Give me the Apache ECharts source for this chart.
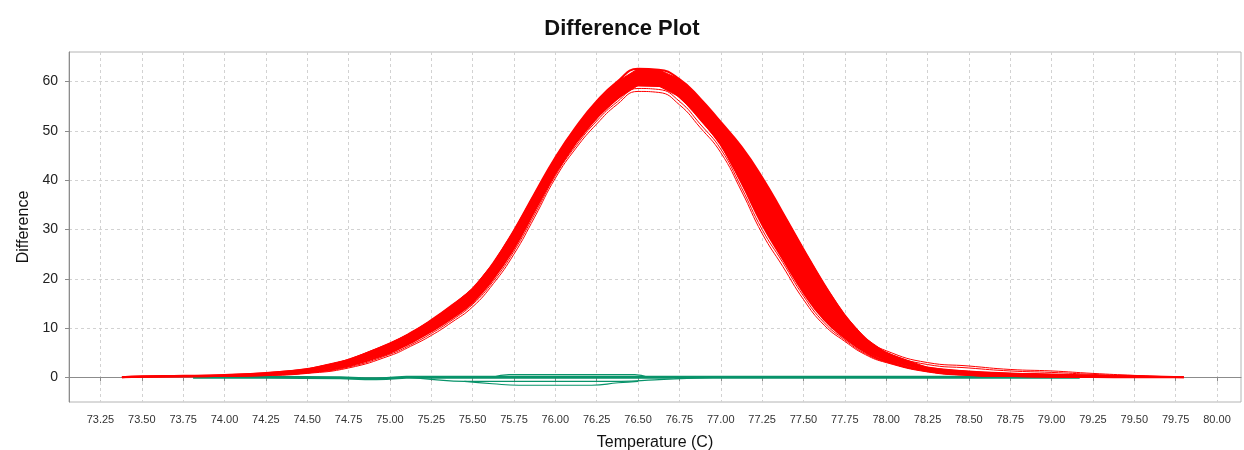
<!DOCTYPE html>
<html>
<head>
<meta charset="utf-8">
<title>Difference Plot</title>
<script src="https://cdn.jsdelivr.net/npm/echarts@6/dist/echarts.min.js"></script>
<style>
  html, body { margin: 0; padding: 0; background: #fff; }
  #chart { width: 1244px; height: 450px; }
</style>
</head>
<body>
<div id="chart"></div>
<script>
// temperatures shared by the red melt curves
const temps = [73.38, 73.50, 73.75, 74.00, 74.25, 74.50, 74.75, 75.00, 75.125, 75.25, 75.375, 75.50,
  75.625, 75.75, 75.875, 76.00, 76.125, 76.25, 76.375, 76.50, 76.625, 76.75, 76.875, 77.00,
  77.125, 77.25, 77.375, 77.50, 77.625, 77.75, 77.875, 78.00, 78.25, 78.50, 78.75, 79.00,
  79.25, 79.50, 79.80]

// outer (top) edge of the red bundle
const redUpper = [0, 0.2, 0.3, 0.5, 0.9, 1.7, 3.6, 6.9, 9.0, 11.6, 14.6, 18.0,
  23.2, 29.8, 37.3, 44.6, 50.8, 56.0, 60.0, 62.6, 62.4, 60.5, 56.6, 51.8,
  46.8, 40.6, 33.4, 26.0, 18.9, 12.6, 7.9, 5.0, 2.0, 1.2, 0.8, 0.6,
  0.4, 0.25, 0]
// lower edge of the solid part of the bundle
const redMain = [0, 0.1, 0.2, 0.3, 0.5, 1.0, 2.3, 5.0, 7.0, 9.3, 12.0, 15.2,
  20.0, 26.2, 33.8, 41.4, 47.6, 52.6, 56.5, 59.2, 59.1, 56.9, 52.4, 47.2,
  39.5, 31.0, 24.0, 17.2, 11.7, 8.0, 5.1, 3.3, 1.3, 0.5, 0.25, 0.1,
  0.05, 0, 0]
// two thin curves just under the bundle
const redThinA = [0, 0.08, 0.15, 0.25, 0.45, 0.9, 2.1, 4.7, 6.6, 8.9, 11.6, 14.8,
  19.5, 25.6, 33.1, 40.9, 47.0, 52.0, 55.9, 58.6, 58.4, 56.0, 51.4, 46.3,
  38.5, 30.0, 23.3, 16.5, 11.1, 7.6, 4.8, 3.1, 1.2, 0.45, 0.2, 0.1,
  0.05, 0, 0]
const redThinB = [0, 0.05, 0.1, 0.2, 0.35, 0.8, 1.9, 4.4, 6.3, 8.5, 11.2, 14.3,
  19.0, 25.0, 32.5, 40.4, 46.5, 51.4, 55.4, 58.0, 57.8, 55.3, 50.7, 45.6,
  37.8, 29.2, 22.5, 15.8, 10.6, 7.3, 4.6, 3.0, 1.1, 0.4, 0.2, 0.1,
  0.05, 0, 0]

// the two curves with the long right tail
const tailTemps = [77.75, 77.875, 78.00, 78.25, 78.50, 78.75, 79.00, 79.25, 79.50, 79.75]
const tailA = [12.2, 7.9, 5.4, 3.0, 2.3, 1.6, 1.3, 0.8, 0.4, 0.05]
const tailB = [11.8, 7.5, 5.0, 2.6, 1.9, 1.3, 1.0, 0.6, 0.25, 0]

// green (negative control) curves
const greenMainT = [73.81, 74.25, 74.70, 74.85, 75.00, 75.10, 76.50, 77.00, 78.00, 79.17]
const greenMain = [0, 0, -0.1, -0.3, -0.2, 0, 0, 0, 0, 0]
const greenUpperT = [75.62, 75.72, 76.48, 76.56]
const greenUpper = [0, 0.55, 0.55, 0]
const greenLowT = [75.12, 75.25, 75.45, 76.40, 76.60, 76.72, 76.95]
const greenLow = [0, -0.4, -0.8, -0.8, -0.5, -0.3, 0]
const greenLowestT = [75.45, 75.62, 75.78, 76.22, 76.38, 76.50]
const greenLowest = [-0.8, -1.3, -1.6, -1.6, -1.1, -0.8]

const xTicks = [73.25, 73.50, 73.75, 74.00, 74.25, 74.50, 74.75, 75.00, 75.25, 75.50, 75.75,
  76.00, 76.25, 76.50, 76.75, 77.00, 77.25, 77.50, 77.75, 78.00, 78.25, 78.50, 78.75,
  79.00, 79.25, 79.50, 79.75, 80.00]
const yTicks = [0, 10, 20, 30, 40, 50, 60]

const RED = '#ff0000'
const GREEN = '#08936a'
const AXIS = '#8c8c8c'
const FONT = 'Liberation Sans'
const SMOOTH = 0.5

const pairs = (xs, ys) => xs.map((x, i) => [x, ys[i]])

function line(data, color, width, z) {
  return {
    type: 'line',
    data,
    symbol: 'none',
    smooth: SMOOTH,
    z,
    lineStyle: { color, width },
    silent: true
  }
}

// solid fill between the top edge and the lower edge of the bundle
function renderBand(params, api) {
  const top = temps.map((t, i) => api.coord([t, redUpper[i]]))
  const bottom = temps.map((t, i) => api.coord([t, redMain[i]])).reverse()
  return {
    type: 'polygon',
    shape: { points: top.concat(bottom) },
    style: { fill: RED, stroke: RED, lineWidth: 1 }
  }
}

const chart = echarts.init(document.getElementById('chart'))

const series = [
  line(pairs(greenMainT, greenMain), GREEN, 3, 2),
  line(pairs(greenUpperT, greenUpper), GREEN, 1.2, 2),
  line(pairs(greenLowT, greenLow), GREEN, 1.2, 2),
  line(pairs(greenLowestT, greenLowest), GREEN, 1.2, 2),
  {
    type: 'custom',
    coordinateSystem: 'cartesian2d',
    data: [[temps[0], 0]],
    renderItem: renderBand,
    z: 3,
    silent: true
  },
  line(pairs(temps, redUpper), RED, 2, 4),
  line(pairs(temps, redMain), RED, 2, 4),
  line(pairs(temps, redThinA), RED, 1, 4),
  line(pairs(temps, redThinB), RED, 1, 4),
  line(pairs(tailTemps, tailA), RED, 1, 4),
  line(pairs(tailTemps, tailB), RED, 1, 4)
]

chart.setOption({
  backgroundColor: '#fff',
  animation: false,
  title: {
    text: 'Difference Plot',
    left: 'center',
    top: 13,
    textStyle: { fontSize: 22, fontWeight: 'bold', color: '#111', fontFamily: FONT }
  },
  grid: {
    left: 69, right: 3, top: 52, bottom: 48,
    containLabel: false,
    outerBoundsMode: 'none',
    show: true, borderColor: '#b4b4b4', borderWidth: 1, backgroundColor: 'transparent'
  },
  xAxis: {
    type: 'value',
    min: 73.06,
    max: 80.145,
    name: 'Temperature (C)',
    nameLocation: 'middle',
    nameGap: 33,
    nameTextStyle: { fontSize: 16, color: '#111', fontFamily: FONT },
    axisLine: { show: true, lineStyle: { color: AXIS } },
    axisTick: { show: true, customValues: xTicks, length: 4, lineStyle: { color: AXIS } },
    axisLabel: {
      customValues: xTicks,
      formatter: v => Number(v).toFixed(2),
      fontSize: 11, color: '#333', margin: 12, fontFamily: FONT
    },
    splitLine: { show: true, lineStyle: { color: '#d2d2d2', type: [3, 3] } }
  },
  yAxis: {
    type: 'value',
    min: -5,
    max: 66,
    name: 'Difference',
    nameLocation: 'middle',
    nameGap: 37,
    nameTextStyle: { fontSize: 16, color: '#111', fontFamily: FONT },
    axisLine: { show: true, lineStyle: { color: AXIS } },
    axisTick: { show: true, customValues: yTicks, length: 4, lineStyle: { color: AXIS } },
    axisLabel: { customValues: yTicks, fontSize: 14, color: '#222', margin: 11, fontFamily: FONT },
    splitLine: { show: true, lineStyle: { color: '#d2d2d2', type: [3, 3] } }
  },
  series
})
</script>
</body>
</html>
